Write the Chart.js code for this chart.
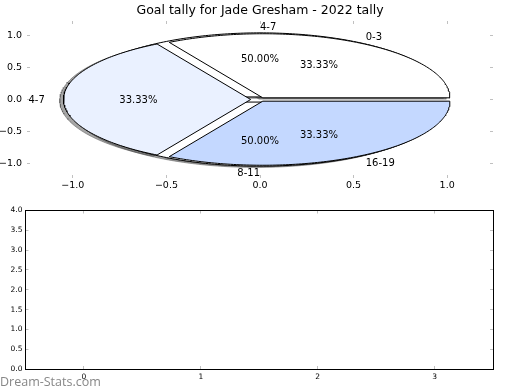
<!DOCTYPE html>
<html>
<head>
<meta charset="utf-8">
<script src="https://cdn.jsdelivr.net/npm/chart.js@4.4.0/dist/chart.umd.min.js"></script>
<style>
  body { margin: 0; background: #fff; width: 520px; height: 390px; overflow: hidden; position: relative; }
  canvas { position: absolute; left: 0; }
  #pie { top: 0; }
  #empty { top: 200px; }
</style>
</head>
<body>
<canvas id="pie" width="520" height="200"></canvas>
<canvas id="empty" width="520" height="190"></canvas>
<script>
// datos del grafico
const chartTitle = 'Goal tally for Jade Gresham - 2022 tally';
const bandLabels = ['0-3', '4-7', '16-19'];
const bandValues = [1, 1, 1];
const splitLabels = ['4-7', '8-11'];
const splitValues = [1, 1];
const pieTicks = [-1.0, -0.5, 0.0, 0.5, 1.0];
const emptyXTicks = [0, 1, 2, 3];
const emptyYTicks = [0, 0.5, 1, 1.5, 2, 2.5, 3, 3.5, 4];

// estilos
const bandColors = ['#ffffff', '#eaf1ff', '#c4d8ff'];
const bandExplode = [0.03, 0.05, 0.03];
const splitColors = ['#ffffff', '#ffffff'];
const splitExplode = [0.04, 0.04];
const shadowColor = 'rgba(77,77,77,0.5)';

const rad = Math.PI / 180;
const fmtTick = v => (v < 0 ? '\u2212' : '') + Math.abs(v).toFixed(1);

function armarPorciones(values, explode, colors, labels) {
  const total = values.reduce((a, b) => a + b, 0);
  let acc = 0;
  return values.map((v, i) => {
    const a0 = acc / total * 360;
    const a1 = (acc + v) / total * 360;
    acc += v;
    const mid = (a0 + a1) / 2 * rad;
    const cx = explode[i] * Math.cos(mid);
    const cy = explode[i] * Math.sin(mid);
    const pts = [{x: cx, y: cy}];
    const n = Math.ceil(a1 - a0);
    for (let k = 0; k <= n; k++) {
      const a = (a0 + (a1 - a0) * k / n) * rad;
      pts.push({x: cx + Math.cos(a), y: cy + Math.sin(a)});
    }
    pts.push({x: cx, y: cy});
    return {pts, cx, cy, mid, pct: v / total * 100, label: labels[i], color: colors[i]};
  });
}

const splitPie = armarPorciones(splitValues, splitExplode, splitColors, splitLabels);
const bandPie = armarPorciones(bandValues, bandExplode, bandColors, bandLabels);
const porciones = splitPie.concat(bandPie);

// orden de pintado: todas las sombras abajo, despues las porciones
var capas = [];
porciones.forEach(p => {
  capas.push({
    data: p.pts.map(q => ({x: q.x - 0.02, y: q.y - 0.02})),
    backgroundColor: shadowColor, borderColor: shadowColor, borderWidth: 1
  });
});
porciones.forEach(p => {
  capas.push({data: p.pts, backgroundColor: p.color, borderColor: '#000', borderWidth: 1});
});
// chart.js dibuja el dataset 0 arriba de todo
capas = capas.reverse().map(c => Object.assign(c, {
  showLine: true, fill: 'shape', pointRadius: 0, tension: 0
}));

const textosTorta = {
  id: 'textosTorta',
  afterDatasetsDraw(chart) {
    const ctx = chart.ctx, sx = chart.scales.x, sy = chart.scales.y;
    ctx.save();
    ctx.fillStyle = '#000';
    ctx.font = '10px DejaVu Sans';
    ctx.textBaseline = 'middle';
    porciones.forEach(p => {
      const xt = p.cx + 1.1 * Math.cos(p.mid);
      const yt = p.cy + 1.1 * Math.sin(p.mid);
      ctx.textAlign = xt > 0 ? 'left' : 'right';
      ctx.fillText(p.label, sx.getPixelForValue(xt), sy.getPixelForValue(yt) + 1);
      ctx.textAlign = 'center';
      ctx.fillText(p.pct.toFixed(2) + '%',
        sx.getPixelForValue(p.cx + 0.6 * Math.cos(p.mid)),
        sy.getPixelForValue(p.cy + 0.6 * Math.sin(p.mid)) + 1);
    });
    ctx.restore();
  }
};

const marcas = {drawOnChartArea: false, drawTicks: true, tickLength: -3, color: '#c0c0c0'};

function eje(pos, min, max, ticks, fmt, size, font, labels, border, pad) {
  return {
    type: 'linear', position: pos, min: min, max: max,
    afterBuildTicks: s => { s.ticks = ticks.map(v => ({value: v})); },
    afterFit: s => { if (pos === 'left' || pos === 'right') s.width = size; else s.height = size; },
    ticks: {display: labels, font: font, color: '#000', padding: pad, callback: v => fmt(v), maxRotation: 0, autoSkip: false},
    grid: marcas,
    border: border ? {display: true, color: '#000', width: 1} : {display: false}
  };
}

const fuenteTorta = {family: 'DejaVu Sans', size: 9.5};
new Chart(document.getElementById('pie'), {
  type: 'scatter',
  data: {datasets: capas},
  options: {
    responsive: false, animation: false,
    layout: {padding: 0},
    plugins: {
      legend: {display: false}, tooltip: {enabled: false},
      title: {display: true, text: chartTitle, color: '#000', font: {family: 'DejaVu Sans', size: 12.5, weight: 'normal'}, padding: {top: 3, bottom: 3}}
    },
    scales: {
      x: eje('bottom', -1.245, 1.245, pieTicks, fmtTick, 22, fuenteTorta, true, false, 5),
      x2: eje('top', -1.245, 1.245, pieTicks, fmtTick, 0, fuenteTorta, false, false, 5),
      y: eje('left', -1.225, 1.225, pieTicks, fmtTick, 27, fuenteTorta, true, false, 8),
      y2: eje('right', -1.225, 1.225, pieTicks, fmtTick, 27, fuenteTorta, false, false, 8)
    }
  },
  plugins: [textosTorta]
});

const marcaAgua = {
  id: 'marcaAgua',
  afterDraw(chart) {
    const ctx = chart.ctx;
    ctx.save();
    ctx.fillStyle = '#878787';
    ctx.font = 'normal 12.5px Open Sans';
    ctx.textBaseline = 'alphabetic';
    ctx.textAlign = 'left';
    ctx.fillText('Dream-Stats.com', 0, 186);
    ctx.restore();
  }
};

const fuenteVacia = {family: 'DejaVu Sans', size: 7.5};
new Chart(document.getElementById('empty'), {
  type: 'scatter',
  data: {datasets: []},
  options: {
    responsive: false, animation: false,
    layout: {padding: 0},
    plugins: {legend: {display: false}, tooltip: {enabled: false}},
    scales: {
      x: eje('bottom', -0.5, 3.5, emptyXTicks, v => String(v), 21, fuenteVacia, true, true, 7),
      x2: eje('top', -0.5, 3.5, emptyXTicks, v => String(v), 10.5, fuenteVacia, false, true, 5),
      y: eje('left', 0, 4, emptyYTicks, v => v.toFixed(1), 25.5, fuenteVacia, true, true, 6),
      y2: eje('right', 0, 4, emptyYTicks, v => v.toFixed(1), 27, fuenteVacia, false, true, 6)
    }
  },
  plugins: [marcaAgua]
});
</script>
</body>
</html>
